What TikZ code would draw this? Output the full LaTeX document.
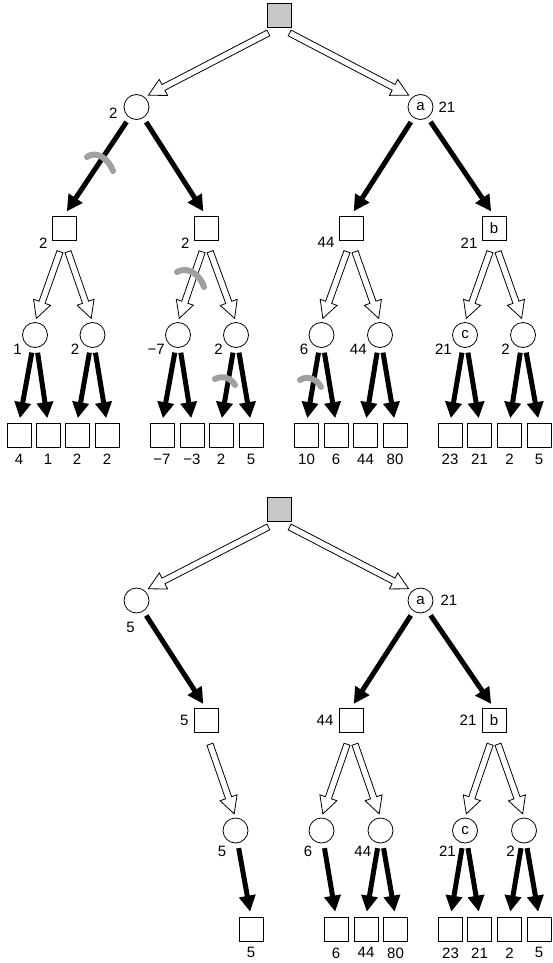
\documentclass[tikz,border=0pt]{standalone}
\usepackage{fontspec}
\setmainfont{Liberation Sans}
\usetikzlibrary{arrows.meta,calc}

\definecolor{rootgray}{HTML}{C8C8C8}
\definecolor{cutgray}{HTML}{A0A0A0}

\tikzset{
  maxnode/.style={draw, line width=0.8pt, minimum size=24pt, inner sep=0pt},
  minnode/.style={draw, circle, line width=0.8pt, minimum size=25pt, inner sep=0pt},
  lbl/.style={inner sep=0pt},
  leaf/.style={maxnode, label={[lbl, label distance=6pt]below:#1}},
  sqlab/.style={label={[lbl, xshift=-4pt, yshift=3pt]below left:#1}},
  toplab/.style={label={[lbl, xshift=-4pt]below left:#1}},
  botlab/.style={label={[lbl, yshift=-6pt]below left:#1}},
  blk/.style={line width=5pt, -{Triangle[length=16pt,width=16pt]}, shorten <=5pt, shorten >=5pt},
  hollow/.style={draw, fill=white, line width=0.8pt, line join=miter},
  cut/.style={draw=cutgray, line width=6pt, line cap=round},
}

% open arrow from the south of #1 towards the point #2
\newcommand{\hollowarrow}[2]{%
  \coordinate (ha0) at ($(#1.south)!12pt!(#2)$);
  \coordinate (ha1) at ($(#2)!4pt!(#1.south)$);
  \coordinate (ha2) at ($(ha1)!17pt!(ha0)$);
  \path[hollow] ($(ha0)!3.2pt!90:(ha1)$) -- ($(ha2)!3.2pt!90:(ha1)$)
    -- ($(ha2)!9pt!90:(ha1)$) -- (ha1) -- ($(ha2)!9pt!-90:(ha1)$)
    -- ($(ha2)!3.2pt!-90:(ha1)$) -- ($(ha0)!3.2pt!-90:(ha1)$) -- cycle;
}

\begin{document}
\begin{tikzpicture}[x=1pt, y=-1pt, every node/.style={font=\fontsize{15}{17}\selectfont}]
  \useasboundingbox (0,0) rectangle (553,963);

  % full tree
  \node[maxnode, fill=rootgray] (t) at (279,15) {};
  \node[minnode, label={[lbl, label distance=6pt, yshift=-6pt]left:2}] (t1) at (136.5,107) {};
  \node[minnode, label={[lbl, label distance=5pt]right:21}] (t2) at (420.5,107) {a};

  \node[maxnode, sqlab=2] (s1) at (64,228) {};
  \node[maxnode, sqlab=2] (s2) at (206,228) {};
  \node[maxnode, sqlab=44] (s3) at (351,228) {};
  \node[maxnode, sqlab=21] (s4) at (494,228) {b};

  \node[minnode, toplab=1] (c1) at (35,335) {};
  \node[minnode, toplab=2] (c2) at (92.5,335) {};
  \node[minnode, toplab=−7] (c3) at (178,335) {};
  \node[minnode, toplab=2] (c4) at (236,335) {};
  \node[minnode, toplab=6] (c5) at (321.5,335) {};
  \node[minnode, toplab=44] (c6) at (380,335) {};
  \node[minnode, toplab=21] (c7) at (465,335) {c};
  \node[minnode, toplab=2] (c8) at (523,335) {};

  \foreach \x/\v [count=\i] in {19/4, 48/1, 77/2, 107/2, 162/−7, 192/−3, 221/2, 251/5,
      306.5/10, 336/6, 365.5/44, 395/80, 450/23, 479.5/21, 509.5/2, 539/5}
    \node[leaf=\v] (f\i) at (\x,435.5) {};

  \hollowarrow{t}{t1.50}
  \hollowarrow{t}{t2.130}
  \foreach \c/\s in {t1/s1, t1/s2, t2/s3, t2/s4}
    \draw[blk] (\c) -- (\s.north);
  \foreach \s/\c in {s1/c1, s1/c2, s2/c3, s2/c4, s3/c5, s3/c6, s4/c7, s4/c8}
    {\hollowarrow{\s}{\c.north}}
  \foreach \i [evaluate=\i as \a using int(2*\i-1), evaluate=\i as \b using int(2*\i)] in {1,...,8} {
    \draw[blk] (c\i) -- (f\a.north);
    \draw[blk] (c\i) -- (f\b.north);
  }

  % cuts
  \draw[cut] (87,157) .. controls (96,150) and (109,159) .. (113,171);
  \draw[cut] (177,272) .. controls (187,266) and (200,274) .. (204,287);
  \draw[cut] (215,379) .. controls (222,375) and (231,378) .. (235,385);
  \draw[cut] (300,380) .. controls (307,375) and (317,379) .. (321,387);

  % pruned tree
  \node[maxnode, fill=rootgray] (b) at (279,509) {};
  \node[minnode, label={[lbl, xshift=-6pt, label distance=9pt]below:5}] (b1) at (136.5,600.5) {};
  \node[minnode, label={[lbl, label distance=7pt]right:21}] (b2) at (420.5,600.5) {a};

  \node[maxnode, label={[lbl, label distance=5pt]left:5}] (bs1) at (206,720.5) {};
  \node[maxnode, label={[lbl, label distance=5pt]left:44}] (bs2) at (351,720.5) {};
  \node[maxnode, label={[lbl, label distance=5pt]left:21}] (bs3) at (494,720.5) {b};

  \node[minnode, botlab=5] (bc1) at (235.5,830.5) {};
  \node[minnode, botlab=6] (bc2) at (321.5,830.5) {};
  \node[minnode, botlab=44] (bc3) at (380.5,830.5) {};
  \node[minnode, botlab=21] (bc4) at (465,830.5) {c};
  \node[minnode, botlab=2] (bc5) at (524,830.5) {};

  \foreach \x/\v [count=\i] in {251/5, 336/6, 366/44, 395.5/80, 450.5/23, 479.5/21, 509.5/2, 539/5}
    \node[leaf=\v] (bf\i) at (\x,929) {};

  \hollowarrow{b}{b1.50}
  \hollowarrow{b}{b2.130}
  \foreach \c/\s in {b1/bs1, b2/bs2, b2/bs3}
    \draw[blk] (\c) -- (\s.north);
  \foreach \s/\c in {bs1/bc1, bs2/bc2, bs2/bc3, bs3/bc4, bs3/bc5}
    {\hollowarrow{\s}{\c.north}}
  \foreach \c/\f in {bc1/bf1, bc2/bf2, bc3/bf3, bc3/bf4, bc4/bf5, bc4/bf6, bc5/bf7, bc5/bf8}
    \draw[blk] (\c) -- (\f.north);
\end{tikzpicture}
\end{document}
